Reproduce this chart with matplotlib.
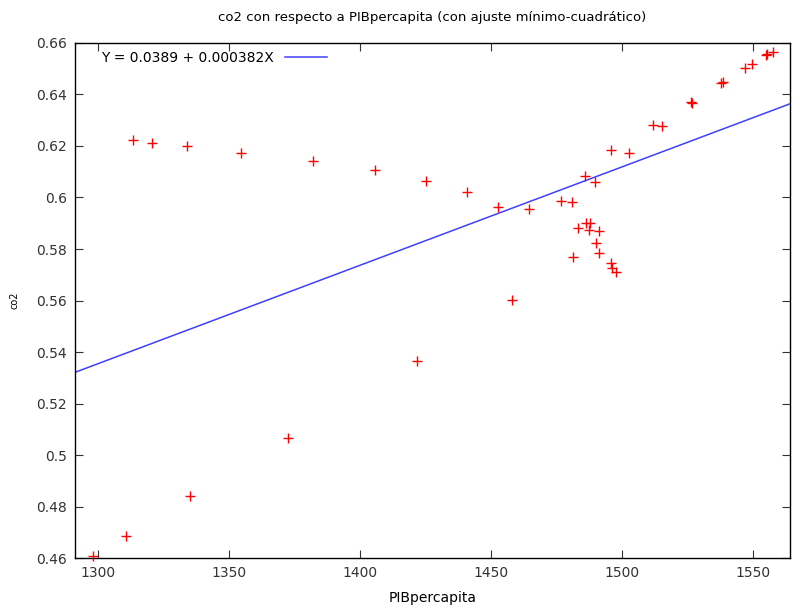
import matplotlib
matplotlib.use("Agg")
import matplotlib.pyplot as plt
import numpy as np

# PIBpercapita vs co2
pib = [1298.1, 1310.7, 1335.1, 1372.5, 1421.8, 1458.0,
       1313.4, 1320.6, 1334.0, 1354.6, 1382.0, 1405.7, 1425.2, 1440.8,
       1452.7, 1464.5, 1476.7, 1480.9, 1485.9, 1489.7, 1495.8, 1502.7,
       1483.2, 1486.3, 1487.8, 1487.4, 1491.2, 1490.1, 1491.2, 1481.3,
       1495.8, 1496.2, 1497.7,
       1511.8, 1515.3, 1526.3, 1526.7, 1537.8, 1538.5, 1546.9, 1549.6,
       1555.0, 1555.3, 1557.6]
co2 = [0.4608, 0.4686, 0.4841, 0.5066, 0.5365, 0.5602,
       0.6223, 0.6212, 0.6200, 0.6173, 0.6142, 0.6107, 0.6064, 0.6021,
       0.5963, 0.5955, 0.5986, 0.5983, 0.6083, 0.6060, 0.6184, 0.6173,
       0.5882, 0.5901, 0.5901, 0.5874, 0.5870, 0.5823, 0.5784, 0.5769,
       0.5746, 0.5726, 0.5711,
       0.6282, 0.6278, 0.6371, 0.6367, 0.6445, 0.6449, 0.6503, 0.6518,
       0.6553, 0.6557, 0.6565]

intercept = 0.0389
slope = 0.000382
xlim = (1291.2, 1564.1)
ylim = (0.46, 0.66)

fig = plt.figure(figsize=(8, 6.08), dpi=100)
ax = fig.add_axes([0.094, 0.0822, 0.8935, 0.8471])

ax.plot(pib, co2, linestyle="none", marker="+", color="red",
        markersize=6.5, markeredgewidth=1, clip_on=False, zorder=3)
xs = np.array(xlim)
ax.plot(xs, intercept + slope * xs, color="#4040ff", linewidth=1.1,
        label="Y = 0.0389 + 0.000382X")

ax.set_xlim(*xlim)
ax.set_ylim(*ylim)
ax.set_xticks([1300, 1350, 1400, 1450, 1500, 1550])
ax.set_yticks(np.arange(0.46, 0.661, 0.02))
ax.set_yticklabels(["0.46", "0.48", "0.5", "0.52", "0.54", "0.56",
                    "0.58", "0.6", "0.62", "0.64", "0.66"])
ax.tick_params(direction="in", top=True, right=True, length=6,
               labelsize=10, colors="#333333", pad=6)
for s in ax.spines.values():
    s.set_linewidth(1)

ax.set_title("co2 con respecto a PIBpercapita (con ajuste mínimo-cuadrático)",
             fontsize=9.5, pad=16)
ax.set_xlabel("PIBpercapita", fontsize=10, labelpad=8)
ax.set_ylabel("co2", fontsize=7, labelpad=12)

ax.legend(loc="upper left", frameon=False, markerfirst=False, fontsize=10,
          handlelength=3, borderaxespad=0.2, bbox_to_anchor=(0.025, 1.0))

fig.savefig("out.png", dpi=100)
